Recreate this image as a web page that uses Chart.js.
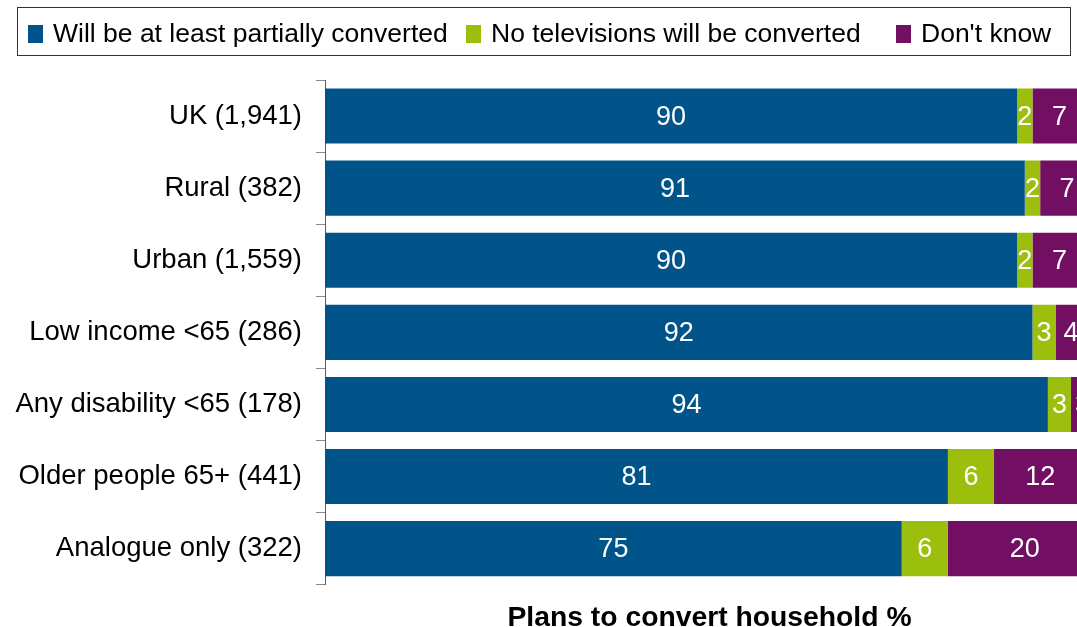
<!DOCTYPE html>
<html>
<head>
<meta charset="utf-8">
<title>Plans to convert household</title>
<script src="https://cdn.jsdelivr.net/npm/chart.js@4/dist/chart.umd.min.js"></script>
<style>
  html, body { margin: 0; padding: 0; background: #fff; overflow: hidden; width: 1077px; height: 627px; }
  #wrap { position: relative; width: 1094px; height: 632px; }
  canvas { display: block; }
</style>
</head>
<body>
<div id="wrap"><canvas id="c" width="1094" height="632"></canvas></div>
<script>
// Household groups (base sizes in brackets)
const categories = [
  'UK (1,941)',
  'Rural (382)',
  'Urban (1,559)',
  'Low income <65 (286)',
  'Any disability <65 (178)',
  'Older people 65+ (441)',
  'Analogue only (322)'
];

// Percentages per answer
const convertedValues = [90, 91, 90, 92, 94, 81, 75];
const noneConvertedValues = [2, 2, 2, 3, 3, 6, 6];
const dontKnowValues = [7, 7, 7, 4, 3, 12, 20];

const seriesNames = ['Will be at least partially converted', 'No televisions will be converted', "Don't know"];
const axisTitle = 'Plans to convert household %';

const FONT = '"Liberation Sans", Arial, Helvetica, sans-serif';
const COLORS = ['#00548A', '#9CBE0C', '#730F62'];

// Boxed legend across the top; each entry starts at a fixed x
const boxedLegend = {
  id: 'boxedLegend',
  afterDraw(chart) {
    const ctx = chart.ctx;
    const entryX = [28, 466, 896];
    const sw = 15, sh = 18, gap = 10;
    ctx.save();
    ctx.font = '26.5px ' + FONT;
    ctx.strokeStyle = '#333';
    ctx.lineWidth = 1;
    ctx.strokeRect(17.5, 7.5, 1053, 48);
    ctx.textBaseline = 'alphabetic';
    ctx.textAlign = 'left';
    chart.data.datasets.forEach((ds, i) => {
      const x = entryX[i];
      ctx.fillStyle = ds.backgroundColor;
      ctx.fillRect(x, 25, sw, sh);
      ctx.fillStyle = '#000';
      ctx.fillText(ds.label, x + sw + gap, 42);
    });
    ctx.restore();
  }
};

// White value labels centred in each segment
const segmentLabels = {
  id: 'segmentLabels',
  afterDatasetsDraw(chart) {
    const ctx = chart.ctx;
    ctx.save();
    ctx.font = '27px ' + FONT;
    ctx.fillStyle = '#fff';
    ctx.textAlign = 'center';
    ctx.textBaseline = 'middle';
    chart.data.datasets.forEach((ds, di) => {
      const meta = chart.getDatasetMeta(di);
      meta.data.forEach((bar, i) => {
        const p = bar.getProps(['x', 'y', 'base'], true);
        ctx.fillText(String(ds.data[i]), (p.x + p.base) / 2, p.y + 1);
      });
    });
    ctx.restore();
  }
};

new Chart(document.getElementById('c'), {
  type: 'bar',
  data: {
    labels: categories,
    datasets: [
      { label: seriesNames[0], data: convertedValues, backgroundColor: COLORS[0] },
      { label: seriesNames[1], data: noneConvertedValues, backgroundColor: COLORS[1] },
      { label: seriesNames[2], data: dontKnowValues, backgroundColor: COLORS[2] }
    ]
  },
  options: {
    indexAxis: 'y',
    responsive: false,
    animation: false,
    devicePixelRatio: 1,
    datasets: {
      bar: { barPercentage: 0.764, categoryPercentage: 1, borderWidth: 0 }
    },
    layout: { padding: { top: 80, left: 0, right: 0, bottom: 0 } },
    plugins: {
      legend: { display: false },
      tooltip: { enabled: false }
    },
    scales: {
      x: {
        stacked: true,
        min: 0,
        max: 100,
        grid: { display: false },
        border: { display: false },
        ticks: { display: false },
        title: {
          display: true,
          text: axisTitle,
          color: '#000',
          font: { family: FONT, size: 28.3, weight: 'bold', lineHeight: 1 },
          padding: { top: 11, bottom: 0 }
        }
      },
      y: {
        stacked: true,
        grid: { display: true, drawOnChartArea: false, drawTicks: true, tickLength: 9, color: '#888', offset: true },
        border: { display: true, color: '#5a5a5a', width: 1 },
        ticks: { color: '#000', font: { family: FONT, size: 27.5 }, padding: 14, autoSkip: false },
        afterFit(scale) { scale.width = 325; }
      }
    }
  },
  plugins: [boxedLegend, segmentLabels]
});
</script>
</body>
</html>
